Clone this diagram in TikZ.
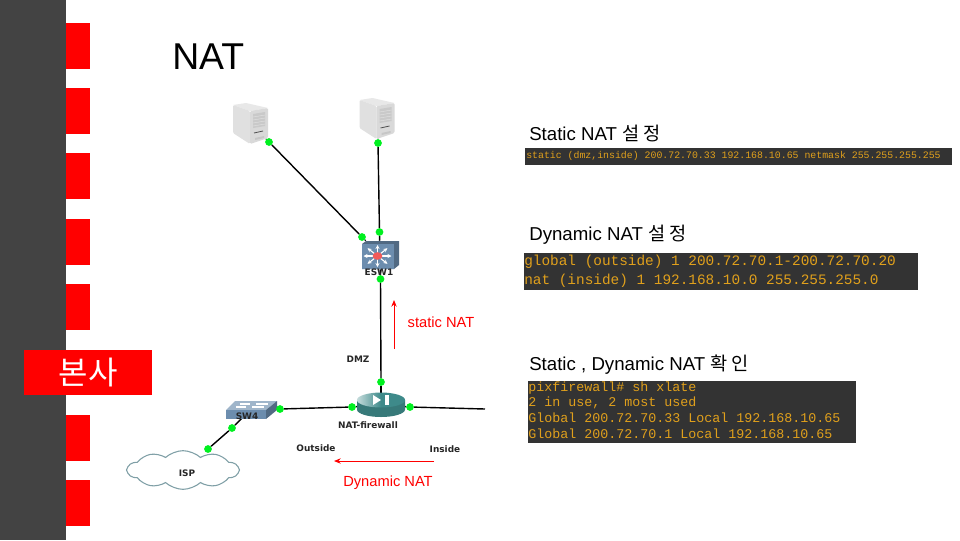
\documentclass[tikz,border=0pt]{standalone}
\usepackage{fontspec}
\setmainfont{Liberation Sans}
\setmonofont{Liberation Mono}
\newfontfamily\cjk{Noto Sans CJK KR}
\newfontfamily\labfont{DejaVu Sans}
\usetikzlibrary{backgrounds,arrows.meta,shapes.symbols}
\definecolor{slate}{HTML}{434343}
\definecolor{codebg}{HTML}{333333}
\definecolor{codefg}{HTML}{E0A01C}
\definecolor{devblue}{HTML}{6C8DAE}
\definecolor{devteal}{HTML}{3E8A8A}
\definecolor{cloudline}{HTML}{7F9FA6}
\definecolor{linkgreen}{HTML}{00F020}
\newcommand{\fs}[1]{\fontsize{#1}{#1}\selectfont}
\tikzset{
  x=0.75pt,y=-0.75pt,
  tab/.style={fill=red,draw=none},
  codebox/.style={fill=codebg,draw=none},
  title/.style={anchor=base west,inner sep=0pt,font=\fs{14}},
  codetext/.style={anchor=base west,inner sep=0pt,text=codefg},
  dot/.style={circle,fill=linkgreen,draw=none,minimum size=5.8pt,inner sep=0pt},
  link/.style={draw=black,line width=1.05pt},
  devlabel/.style={inner sep=0pt,font=\labfont\bfseries\fs{6.7},text=black!85},
  redlabel/.style={inner sep=0pt,text=red,font=\fs{11}},
  redarrow/.style={draw=red,line width=0.7pt,-{Stealth[length=5pt,width=4pt]}},
  device/.style={inner sep=0pt,draw=none}
}
\newcommand{\serverpic}[2]{%
\begin{scope}[shift={(#1,#2)}]
 \fill[gray!18] (0,2)--(13,0)--(35,5)--(17,8)--cycle;
 \fill[gray!24,rounded corners=1pt] (0,2)--(17,8)--(17,41)--(0,30)--cycle;
 \fill[gray!30,rounded corners=1pt] (17,8)--(35,5)--(35,35)--(17,41)--cycle;
 \fill[gray!42] (20,11)--(32,9)--(32,23)--(20,25)--cycle;
 \foreach \yy in {14,17,20,23} \draw[gray!22,line width=0.3pt] (20,\yy)--(32,\yy-2);
 \draw[gray!60!black,line width=0.6pt] (21,30)--(30,28);
 \fill[gray!45] (22,35)--(31,33)--(31,35)--(22,37)--cycle;
\end{scope}}
\begin{document}
\begin{tikzpicture}
\useasboundingbox (0,0) rectangle (960,540);
\begin{scope}[on background layer]
\fill[white] (0,0) rectangle (960,540);
\end{scope}
% left band and red tabs
\fill[slate] (0,0) rectangle (66,540);
\foreach \ya/\yb in {23/69,88/134,153/199,219/265,284/330,415/461,480/526}
  \fill[tab] (66,\ya) rectangle (90,\yb);
\node[tab,minimum width=96pt,minimum height=34pt,inner sep=0pt,text=white,font=\cjk\fs{24}] (hq) at (88,372.5) {본사};
\node[anchor=base west,inner sep=0pt,font=\fs{28}] (head) at (172,69) {NAT};

% server icons
\serverpic{233}{103}
\serverpic{359.5}{98}
\node[device,minimum width=26pt,minimum height=30pt] (srvA) at (250.5,123.5) {};
\node[device,minimum width=26pt,minimum height=30pt] (srvB) at (377,118.5) {};

% ESW1
\fill[devblue!75!black] (362,244)--(366,241)--(399,241)--(399,265)--(394,269)--(362,269)--cycle;
\fill[devblue] (362,244) rectangle (394,269);
\node[device,minimum width=27pt,minimum height=21pt] (esw) at (380,255) {};
\foreach \a in {0,45,...,315}
  \draw[white,line width=0.8pt,-{Stealth[length=3pt,width=3pt]}] (377.5,256) -- ++(\a:14 and 11);
\fill[red!55!pink!90!gray] (377.5,256) ellipse (4.8 and 3.8);
\node[devlabel] (eswl) at (379,272) {ESW1};

% SW4
\fill[devblue!65!white] (235,401)--(277,401)--(266,410)--(226,410)--cycle;
\fill[devblue] (226,410) rectangle (266,419);
\fill[devblue!75!black] (266,410)--(277,401)--(277,410)--(266,419)--cycle;
\draw[white,line width=0.8pt] (240,404)--(250,404) (256,404)--(268,404) (236,407)--(246,407) (252,407)--(264,407);
\node[device,minimum width=33pt,minimum height=12pt] (sw) at (250,410) {};
\node[devlabel] (swl) at (247,416) {SW4};

% NAT-firewall
\fill[devteal!88!black] (357,400) -- (357,409.5) arc[start angle=180,end angle=0,x radius=24,y radius=7.5] -- (405,400) -- cycle;
\shade[left color=devteal!30!white,right color=devteal,middle color=devteal] (381,400) ellipse (24 and 7.5);
\fill[white] (373,395)--(381,400)--(373,405)--cycle;
\fill[white] (385,395) rectangle (389,405);
\node[device,minimum width=34pt,minimum height=15pt] (fw) at (381,405) {};
\node[devlabel] (fwl) at (368,425) {NAT-firewall};

% ISP cloud
\node[cloud,cloud puffs=10,cloud puff arc=85,aspect=2.8,draw=cloudline,line width=0.8pt,fill=white,minimum width=83pt,minimum height=29pt,inner sep=0pt] (isp) at (183,470) {};
\node[devlabel] (ispl) at (187,473) {ISP};

% connection points
\node[dot] (a1) at (269,142) {};
\node[dot] (a2) at (362,237) {};
\node[dot] (b1) at (378,143) {};
\node[dot] (b2) at (379.5,232) {};
\node[dot] (c1) at (380.5,279) {};
\node[dot] (c2) at (381,382) {};
\node[dot] (d1) at (352,407) {};
\node[dot] (d2) at (280,409) {};
\node[dot] (e1) at (232,428) {};
\node[dot] (e2) at (208,449) {};
\node[dot] (f1) at (410,407) {};
\coordinate (fend) at (485,409);

% labels
\node[devlabel] (dmz) at (358,359) {DMZ};
\node[devlabel] (outl) at (316,448) {Outside};
\node[devlabel] (inl) at (445,449) {Inside};
\node[redlabel] (stat) at (441,322) {static NAT};
\node[redlabel] (dyn) at (388,483) {Dynamic NAT};
\coordinate (up1) at (394,349); \coordinate (up2) at (394,300);
\coordinate (dy1) at (434,461); \coordinate (dy2) at (334,461);
\draw[redarrow] (up1) -- (up2);
\draw[redarrow] (dy1) -- (dy2);

% code panels
\node[title] (t1) at (529,140) {Static NAT {\cjk 설 정}};
\fill[codebox] (525,148) rectangle (952,165);
\node[codetext,font=\ttfamily\fs{7.4}] (c11) at (526,158) {static (dmz,inside) 200.72.70.33 192.168.10.65 netmask 255.255.255.255};
\node[title] (t2) at (529,240) {Dynamic NAT {\cjk 설 정}};
\fill[codebox] (524,253) rectangle (918,290);
\node[codetext,font=\ttfamily\fs{10.8}] (c21) at (524,265.5) {global (outside) 1 200.72.70.1-200.72.70.20};
\node[codetext,font=\ttfamily\fs{10.8}] (c22) at (524,284) {nat (inside) 1 192.168.10.0 255.255.255.0};
\node[title] (t3) at (529,370) {Static , Dynamic NAT {\cjk 확 인}};
\fill[codebox] (528,381) rectangle (856,443);
\node[codetext,font=\ttfamily\fs{10}] (c31) at (528,391) {pixfirewall\# sh xlate};
\node[codetext,font=\ttfamily\fs{10}] (c32) at (528,406.7) {2 in use, 2 most used};
\node[codetext,font=\ttfamily\fs{10}] (c33) at (528,422.7) {Global 200.72.70.33 Local 192.168.10.65};
\node[codetext,font=\ttfamily\fs{10}] (c34) at (528,438) {Global 200.72.70.1 Local 192.168.10.65};

% connectors, kept behind the devices and dots
\begin{scope}[on background layer]
\draw[link] (a1) -- (a2);
\draw[link] (a2) -- (esw);
\draw[link] (b1) -- (b2);
\draw[link] (b2) -- (esw);
\draw[link] (esw) -- (c1);
\draw[link] (c1) -- (c2);
\draw[link] (c2) -- (fw);
\draw[link] (d1) -- (d2);
\draw[link] (d2) -- (sw);
\draw[link] (sw) -- (e1);
\draw[link] (e1) -- (e2);
\draw[link] (f1) -- (fend);
\draw[link] (d1) -- (fw);
\draw[link] (f1) -- (fw);
\draw[link] (srvA) -- (a1);
\draw[link] (srvB) -- (b1);
\end{scope}
\end{tikzpicture}
\end{document}
